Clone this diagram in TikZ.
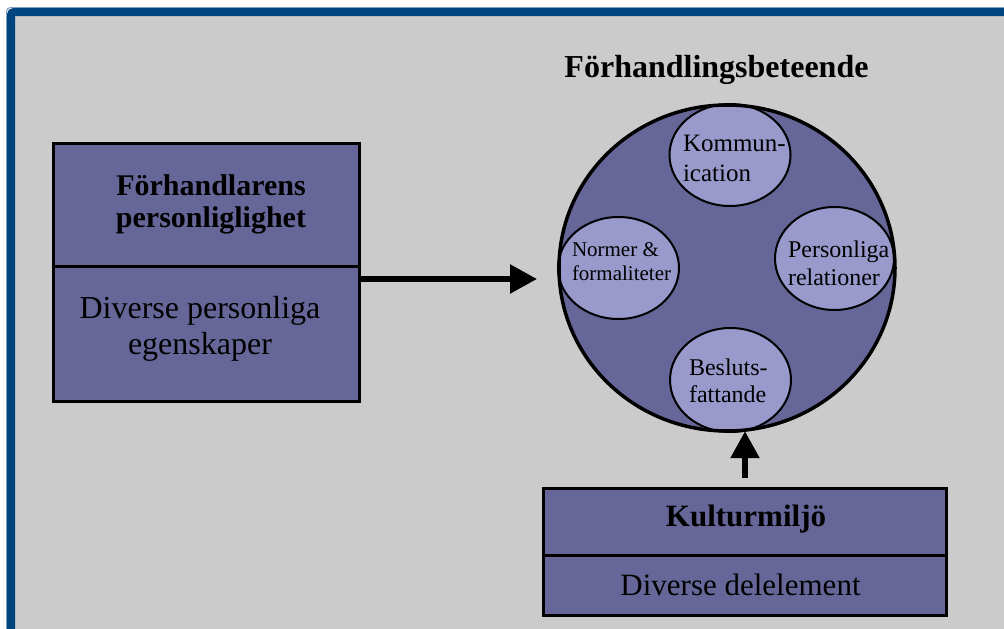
\documentclass[tikz,border=0pt]{standalone}
\usepackage{fontspec}
\setmainfont{Liberation Serif}
\usetikzlibrary{shapes.geometric,arrows.meta}
\definecolor{framebg}{HTML}{CBCBCB}
\definecolor{frameblue}{HTML}{00457F}
\definecolor{frameedge}{HTML}{7FA0C0}
\definecolor{boxfill}{HTML}{666699}
\definecolor{ovalfill}{HTML}{9999CC}

\begin{document}
\begin{tikzpicture}[x=1pt,y=-1pt,
  panel/.style={rectangle,draw=black,line width=3pt,fill=boxfill,inner sep=0pt},
  oval/.style={ellipse,draw=black,line width=2pt,fill=ovalfill,inner sep=0pt},
  flow/.style={line width=5.5pt,-{Triangle[length=27pt,width=28pt]}},
  txt/.style={inner sep=0pt,outer sep=0pt}]
\useasboundingbox (0,0) rectangle (1004,629);
\fill[white] (0,0) rectangle (1004,629);

% outer frame
\draw[frameedge, line width=1pt, rounded corners=4pt] (6.5,7.5) rectangle (1040,680);
\draw[frameblue, line width=8pt, fill=framebg, rounded corners=3pt] (11,12) rectangle (1030,660);

% title
\node[txt, anchor=base, font=\fontsize{32}{36}\selectfont\bfseries] (title) at (716.5,77) {Förhandlingsbeteende};

% left panel (multi-line nodes sit on the baseline of their last line)
\node[panel, minimum width=306pt, minimum height=122.5pt] (persTop) at (206,204.75) {};
\node[panel, minimum width=306pt, minimum height=135.5pt] (persBot) at (206,333.75) {};
\node[txt, anchor=base, align=center, font=\fontsize{30}{32}\selectfont\bfseries] (persHead) at (211,227) {Förhandlarens\\personliglighet};
\node[txt, anchor=base, align=center, font=\fontsize{32}{36}\selectfont] (persBody) at (200,354) {Diverse personliga\\egenskaper};

% bottom panel
\node[panel, minimum width=403pt, minimum height=66.5pt] (kultTop) at (745,521.75) {};
\node[panel, minimum width=403pt, minimum height=60.5pt] (kultBot) at (745,585.25) {};
\node[txt, anchor=base, font=\fontsize{31}{36}\selectfont\bfseries] (kultHead) at (746,526) {Kulturmiljö};
\node[txt, anchor=base, font=\fontsize{31}{36}\selectfont] (kultBody) at (740.5,595) {Diverse delelement};

% behaviour circle with its four parts
\node[ellipse, fill=boxfill, inner sep=0pt, minimum width=336pt, minimum height=326pt] (behav) at (727,268) {};
\node[oval, minimum width=121pt, minimum height=102pt] (kom) at (730,155) {};
\node[oval, minimum width=121pt, minimum height=102pt] (norm) at (618.5,268) {};
\node[oval, minimum width=119pt, minimum height=103pt] (rel) at (834.5,258.5) {};
\node[oval, minimum width=121pt, minimum height=104pt] (bes) at (730.5,380) {};
\draw[line width=3.5pt] (behav.center) ellipse [x radius=168, y radius=163];

\node[txt, anchor=base west, align=left, font=\fontsize{25}{30}\selectfont] (komTxt) at (683,181) {Kommun-\\ication};
\node[txt, anchor=base west, align=left, font=\fontsize{21}{24}\selectfont] (normTxt) at (572,280) {Normer \&\\formaliteter};
\node[txt, anchor=base west, align=left, font=\fontsize{24}{28}\selectfont] (relTxt) at (788,285) {Personliga\\relationer};
\node[txt, anchor=base west, align=left, font=\fontsize{24}{27}\selectfont] (besTxt) at (689,402) {Besluts-\\fattande};

% connectors
\coordinate (tipA) at (537,279);
\draw[flow] (persBot.east |- tipA) -- (tipA);
\coordinate (stemB) at (745,478);
\draw[flow] (stemB) -- (stemB |- behav.south);
\end{tikzpicture}
\end{document}
